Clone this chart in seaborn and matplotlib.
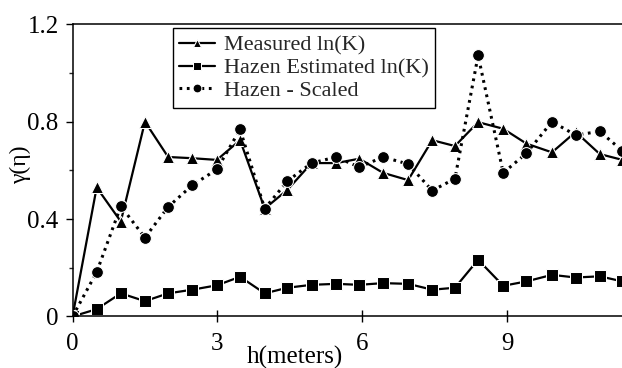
import matplotlib
matplotlib.use("Agg")
import matplotlib.pyplot as plt
from matplotlib.ticker import MultipleLocator
import pandas as pd
import seaborn as sns

# lag distance (m)
h = [0, 0.50, 1.00, 1.50, 1.98, 2.48, 2.99, 3.47, 3.98, 4.45, 4.95, 5.46,
     5.94, 6.43, 6.95, 7.45, 7.92, 8.40, 8.92, 9.40, 9.93, 10.42, 10.92, 11.39]

measured = [0, 0.53, 0.39, 0.80, 0.655, 0.65, 0.643, 0.724, 0.443, 0.52, 0.63, 0.63,
            0.648, 0.59, 0.56, 0.724, 0.70, 0.798, 0.771, 0.71, 0.674, 0.758, 0.667, 0.643]
hazen = [0, 0.03, 0.095, 0.063, 0.095, 0.11, 0.128, 0.163, 0.095, 0.118, 0.13, 0.134,
         0.13, 0.137, 0.134, 0.11, 0.118, 0.233, 0.126, 0.144, 0.171, 0.16, 0.165, 0.144]
scaled = [0, 0.182, 0.453, 0.324, 0.45, 0.539, 0.604, 0.768, 0.443, 0.556, 0.63, 0.655,
          0.613, 0.655, 0.626, 0.517, 0.566, 1.072, 0.59, 0.67, 0.80, 0.745, 0.76, 0.68]

labels = ["Measured ln(K)", "Hazen Estimated ln(K)", "Hazen - Scaled"]

df = pd.DataFrame({"h": h, "measured": measured, "hazen": hazen, "scaled": scaled})

sns.set_theme(style="ticks")
plt.rcParams["font.family"] = ["Liberation Serif", "DejaVu Serif"]

fig = plt.figure(figsize=(6.22, 3.68), dpi=100)
ax = fig.add_axes([0.1166, 0.14, 0.8834, 0.794])

sns.lineplot(data=df, x="h", y="measured", ax=ax, color="black", marker="^",
             markersize=8, linewidth=1.6, label=labels[0], sort=False)
sns.lineplot(data=df, x="h", y="hazen", ax=ax, color="black", marker="s",
             markersize=8, linewidth=1.6, label=labels[1], sort=False)
sns.lineplot(data=df, x="h", y="scaled", ax=ax, color="black", marker="o",
             markersize=8.5, linewidth=2.2, linestyle=(0, (0.9, 1.5)),
             label=labels[2], sort=False)

ax.set_xlim(0, 11.38)
ax.set_ylim(0, 1.2)
ax.set_xticks([0, 3, 6, 9])
ax.set_yticks([0, 0.4, 0.8, 1.2])
ax.set_yticklabels(["0", "0.4", "0.8", "1.2"])
ax.yaxis.set_minor_locator(MultipleLocator(0.2))

for s in ["top", "bottom", "left"]:
    ax.spines[s].set_linewidth(1.1)
    ax.spines[s].set_color("black")
ax.spines["right"].set_visible(False)

ax.tick_params(axis="x", direction="inout", length=8, width=1, labelsize=18, pad=8, colors="black")
ax.tick_params(axis="y", which="major", direction="out", length=5, width=1, labelsize=18, pad=5, colors="black")
ax.tick_params(axis="y", which="minor", direction="out", length=3, width=1)

ax.set_xlabel("h(meters)", fontsize=18, color="black")
ax.xaxis.set_label_coords(0.405, -0.1)
ax.set_ylabel("γ(η)", fontsize=17, color="black")
ax.yaxis.set_label_coords(-0.075, 0.52)

leg = ax.legend(loc="upper left", bbox_to_anchor=(0.182, 0.986), borderaxespad=0,
                fontsize=16, frameon=True, fancybox=False, framealpha=1,
                edgecolor="black", handlelength=1.6, handletextpad=0.4,
                labelspacing=0.1, borderpad=0.3, markerscale=0.75)
leg.get_frame().set_linewidth(1.0)

fig.savefig("out.png", dpi=100)
